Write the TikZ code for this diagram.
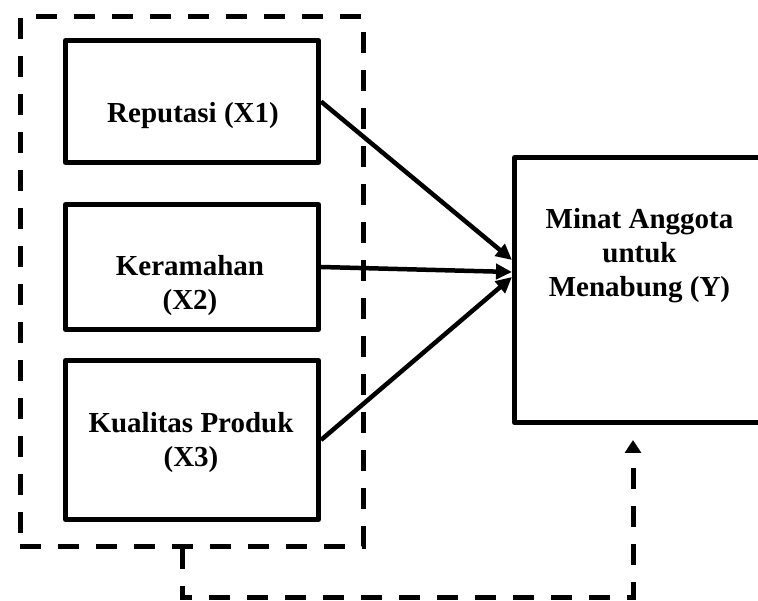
\documentclass[tikz,border=0pt]{standalone}
\usepackage{fontspec}
\setmainfont{Liberation Serif}
\usetikzlibrary{arrows.meta}
\begin{document}
\begin{tikzpicture}[x=1pt,y=-1pt,
  box/.style={draw, line width=5pt, line join=round, inner sep=0pt},
  lbl/.style={font=\bfseries\fontsize{29}{34}\selectfont, align=center, inner sep=0pt},
  arr/.style={line width=4.5pt, -{Triangle[length=16pt,width=15pt]}},
  dsh/.style={line width=5pt, dash pattern=on 21pt off 17pt}]
\useasboundingbox (0,0) rectangle (758,601);
\clip (0,0) rectangle (758,601);
% dashed group frame
\node[draw, dsh, minimum width=343pt, minimum height=529pt, inner sep=0pt] (grp) at (191.5,281.5) {};
% boxes
\node[box, minimum width=253pt, minimum height=122pt] (x1) at (192,101.5) {};
\node[box, minimum width=253pt, minimum height=125pt] (x2) at (192,267) {};
\node[box, minimum width=253pt, minimum height=159pt] (x3) at (192,440) {};
\node[box, minimum width=251pt, minimum height=265pt] (y) at (640,290) {};
% labels (base anchor = baseline of last line)
\node[lbl, anchor=base] (l1) at (193,123) {Reputasi (X1)};
\node[lbl, anchor=base] (l2) at (190,310) {Keramahan\\(X2)};
\node[lbl, anchor=base] (l3) at (191,467) {Kualitas Produk\\(X3)};
\node[lbl, anchor=base] (ly) at (639.5,297) {Minat Anggota\\untuk\\Menabung (Y)};
% arrow targets
\coordinate (a1) at (512,260);
\coordinate (a2) at (512,272);
\coordinate (a3) at (512,277);
\draw[arr] (x1.east) -- (a1);
\draw[arr] (x2.east) -- (a2);
\draw[arr] (x3.east) -- (a3);
% dashed feedback connector
\coordinate (b0) at (182,548);
\coordinate (b1) at (182,597);
\coordinate (b2) at (633,597);
\coordinate (b3) at (633,440);
\draw[dsh, -{Triangle[length=13pt,width=16pt]}] (b0) -- (b1) -- (b2) -- (b3);
\end{tikzpicture}
\end{document}
